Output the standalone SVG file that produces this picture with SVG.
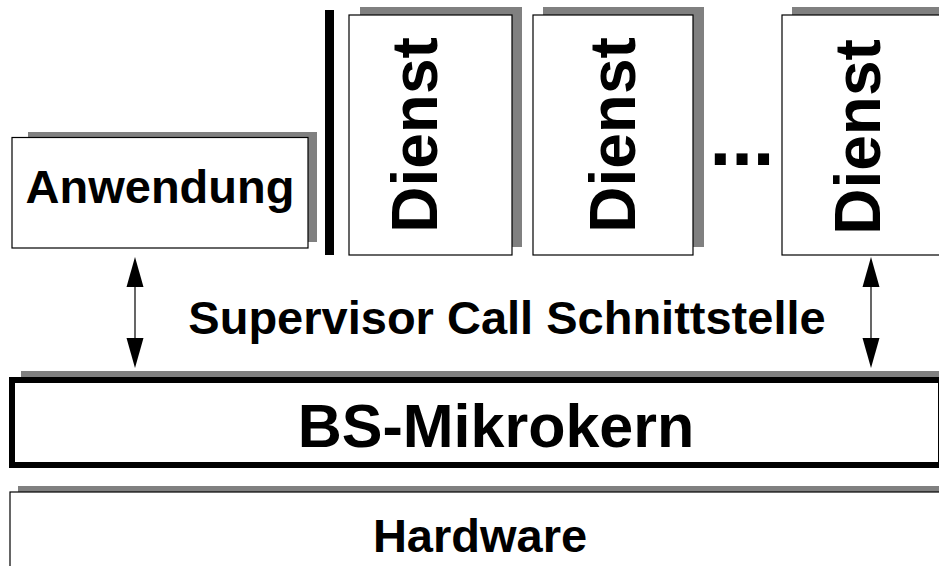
<svg xmlns="http://www.w3.org/2000/svg" width="939" height="566" viewBox="0 0 939 566">
<defs>
<style>
.sh{fill:#808080}
.box{fill:#fff;stroke:#000;stroke-width:1.2}
.t{font-family:"Liberation Sans",Arial,Helvetica,sans-serif;font-weight:bold;fill:#000;text-anchor:middle}
.ln{stroke:#000;stroke-width:1.2;fill:none}
</style>
<marker id="ah" viewBox="0 0 30 18" refX="30" refY="9" markerWidth="30" markerHeight="18" markerUnits="userSpaceOnUse" orient="auto-start-reverse">
<path d="M0,0 L30,9 L0,18 Z" fill="#000"/>
</marker>
</defs>
<rect width="939" height="566" fill="#fff"/>

<g id="anwendung">
<rect class="sh" x="28" y="132" width="289" height="110"/>
<rect class="box" x="12" y="137.5" width="296" height="110.5"/>
<text class="t" x="160" y="203" font-size="47">Anwendung</text>
</g>

<g id="trenner">
<rect x="325" y="10" width="9" height="245" fill="#000"/>
</g>

<g id="dienst1">
<rect class="sh" x="360" y="7" width="162" height="240"/>
<rect class="box" x="349" y="15" width="163" height="240"/>
<text class="t" font-size="64" transform="translate(437,135) rotate(-90)">Dienst</text>
</g>

<g id="dienst2">
<rect class="sh" x="543" y="7" width="161" height="240"/>
<rect class="box" x="533" y="15" width="160" height="240"/>
<text class="t" font-size="64" transform="translate(635,135) rotate(-90)">Dienst</text>
</g>

<g id="punkte">
<text class="t" x="742" y="165" font-size="78">...</text>
</g>

<g id="dienst3">
<rect class="sh" x="792" y="7" width="200" height="240"/>
<rect class="box" x="782" y="15" width="200" height="240"/>
<text class="t" font-size="64" transform="translate(880,137) rotate(-90)">Dienst</text>
</g>

<g id="schnittstelle">
<text class="t" x="507" y="334" font-size="47">Supervisor Call Schnittstelle</text>
</g>

<g id="mikrokern">
<rect class="sh" x="21" y="371" width="950" height="20"/>
<rect x="12" y="380" width="929" height="85" fill="#fff" stroke="#000" stroke-width="6"/>
<text class="t" x="496" y="447" font-size="61">BS-Mikrokern</text>
</g>

<g id="hardware">
<rect class="sh" x="18" y="486" width="940" height="20"/>
<rect class="box" x="10" y="492" width="950" height="100"/>
<text class="t" x="480" y="552" font-size="47">Hardware</text>
</g>

<g id="connectors">
<line class="ln" x1="135" y1="287" x2="135" y2="338"/>
<path d="M135,257 L126.5,287 L143.5,287 Z" fill="#000"/>
<path d="M135,368 L126.5,338 L143.5,338 Z" fill="#000"/>
<line class="ln" x1="871" y1="287" x2="871" y2="338"/>
<path d="M871,257 L862.5,287 L879.5,287 Z" fill="#000"/>
<path d="M871,368 L862.5,338 L879.5,338 Z" fill="#000"/>
</g>
</svg>
